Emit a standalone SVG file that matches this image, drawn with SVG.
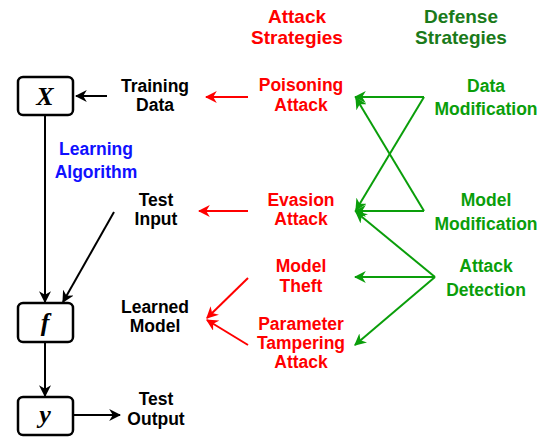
<svg xmlns="http://www.w3.org/2000/svg" width="550" height="437" viewBox="0 0 550 437">
<defs>
<style>
text{font-family:"Liberation Sans",Arial,sans-serif;font-weight:bold;font-size:17.5px;text-anchor:middle}
.k{fill:#000}.r{fill:#ff0000}.g{fill:#0a9e0a}.gh{fill:#1a7a1a}.b{fill:#1010ff}
.box{fill:#fff;stroke:#000;stroke-width:2.5}
.v{font-family:"Liberation Serif","Times New Roman",serif;font-style:italic;font-size:26px}
.lk{stroke:#000;stroke-width:2;fill:none}
.lr{stroke:#ff0000;stroke-width:2;fill:none}
.lg{stroke:#0a9e0a;stroke-width:2;fill:none}
</style>
<marker id="ar" viewBox="0 0 10 10" refX="9" refY="5" markerWidth="12" markerHeight="12" orient="auto" markerUnits="userSpaceOnUse"><path d="M0,0 L10,5 L0,10 L3,5 z" fill="#ff0000"/></marker>
<marker id="ag" viewBox="0 0 10 10" refX="9" refY="5" markerWidth="12" markerHeight="12" orient="auto" markerUnits="userSpaceOnUse"><path d="M0,0 L10,5 L0,10 L3,5 z" fill="#0a9e0a"/></marker>
<marker id="akb" viewBox="0 0 10 10" refX="9" refY="5" markerWidth="12" markerHeight="12" orient="auto" markerUnits="userSpaceOnUse"><path d="M0,0 L10,5 L0,10 L3,5 z" fill="#000"/></marker>
</defs>
<g id="connectors">
<line class="lk" x1="107" y1="96" x2="76" y2="96" marker-end="url(#akb)"/>
<line class="lk" x1="45" y1="116" x2="45" y2="302" marker-end="url(#akb)"/>
<line class="lk" x1="114" y1="212" x2="63" y2="302" marker-end="url(#akb)"/>
<line class="lk" x1="45" y1="343" x2="45" y2="396" marker-end="url(#akb)"/>
<line class="lk" x1="74" y1="415" x2="120" y2="415" marker-end="url(#akb)"/>
<line class="lr" x1="248" y1="97" x2="206" y2="97" marker-end="url(#ar)"/>
<line class="lr" x1="248" y1="211" x2="199" y2="211" marker-end="url(#ar)"/>
<line class="lr" x1="248" y1="278" x2="207" y2="318" marker-end="url(#ar)"/>
<line class="lr" x1="248" y1="345" x2="207" y2="320" marker-end="url(#ar)"/>
<line class="lg" x1="424" y1="97" x2="355" y2="97" marker-end="url(#ag)"/>
<line class="lg" x1="424" y1="97" x2="356" y2="210" marker-end="url(#ag)"/>
<line class="lg" x1="424" y1="211" x2="355" y2="211" marker-end="url(#ag)"/>
<line class="lg" x1="424" y1="211" x2="356" y2="98" marker-end="url(#ag)"/>
<line class="lg" x1="435" y1="277" x2="356" y2="212" marker-end="url(#ag)"/>
<line class="lg" x1="435" y1="277" x2="355" y2="277" marker-end="url(#ag)"/>
<line class="lg" x1="435" y1="277" x2="355" y2="345" marker-end="url(#ag)"/>
</g>
<g id="node-X"><rect class="box" x="18" y="77" width="55" height="38" rx="5"/><text class="v k" x="45" y="105">X</text></g>
<g id="node-f"><rect class="box" x="18" y="303" width="55" height="39" rx="5"/><text class="v k" x="45" y="331">f</text></g>
<g id="node-y"><rect class="box" x="18" y="397" width="55" height="38" rx="5"/><text class="v k" x="45" y="423">y</text></g>
<g id="training-data"><text class="k" x="155" y="92">Training</text><text class="k" x="155" y="111">Data</text></g>
<g id="learning-algorithm"><text class="b" x="96" y="155">Learning</text><text class="b" x="96" y="178">Algorithm</text></g>
<g id="test-input"><text class="k" x="156" y="206">Test</text><text class="k" x="156" y="225">Input</text></g>
<g id="learned-model"><text class="k" x="155" y="313">Learned</text><text class="k" x="155" y="332">Model</text></g>
<g id="test-output"><text class="k" x="156" y="405">Test</text><text class="k" x="156" y="425">Output</text></g>
<g id="attack-header"><text class="r" x="297" y="23" style="font-size:19px">Attack</text><text class="r" x="297" y="44" style="font-size:19px">Strategies</text></g>
<g id="defense-header"><text class="gh" x="461" y="23" style="font-size:19px">Defense</text><text class="gh" x="461" y="44" style="font-size:19px">Strategies</text></g>
<g id="poisoning"><text class="r" x="301" y="91">Poisoning</text><text class="r" x="301" y="111">Attack</text></g>
<g id="evasion"><text class="r" x="301" y="206">Evasion</text><text class="r" x="301" y="225">Attack</text></g>
<g id="model-theft"><text class="r" x="301" y="272">Model</text><text class="r" x="301" y="292">Theft</text></g>
<g id="parameter-tampering"><text class="r" x="301" y="330">Parameter</text><text class="r" x="301" y="349">Tampering</text><text class="r" x="301" y="368">Attack</text></g>
<g id="data-modification"><text class="g" x="486" y="92">Data</text><text class="g" x="486" y="115">Modification</text></g>
<g id="model-modification"><text class="g" x="486" y="206">Model</text><text class="g" x="486" y="230">Modification</text></g>
<g id="attack-detection"><text class="g" x="486" y="272">Attack</text><text class="g" x="486" y="296">Detection</text></g>
</svg>
